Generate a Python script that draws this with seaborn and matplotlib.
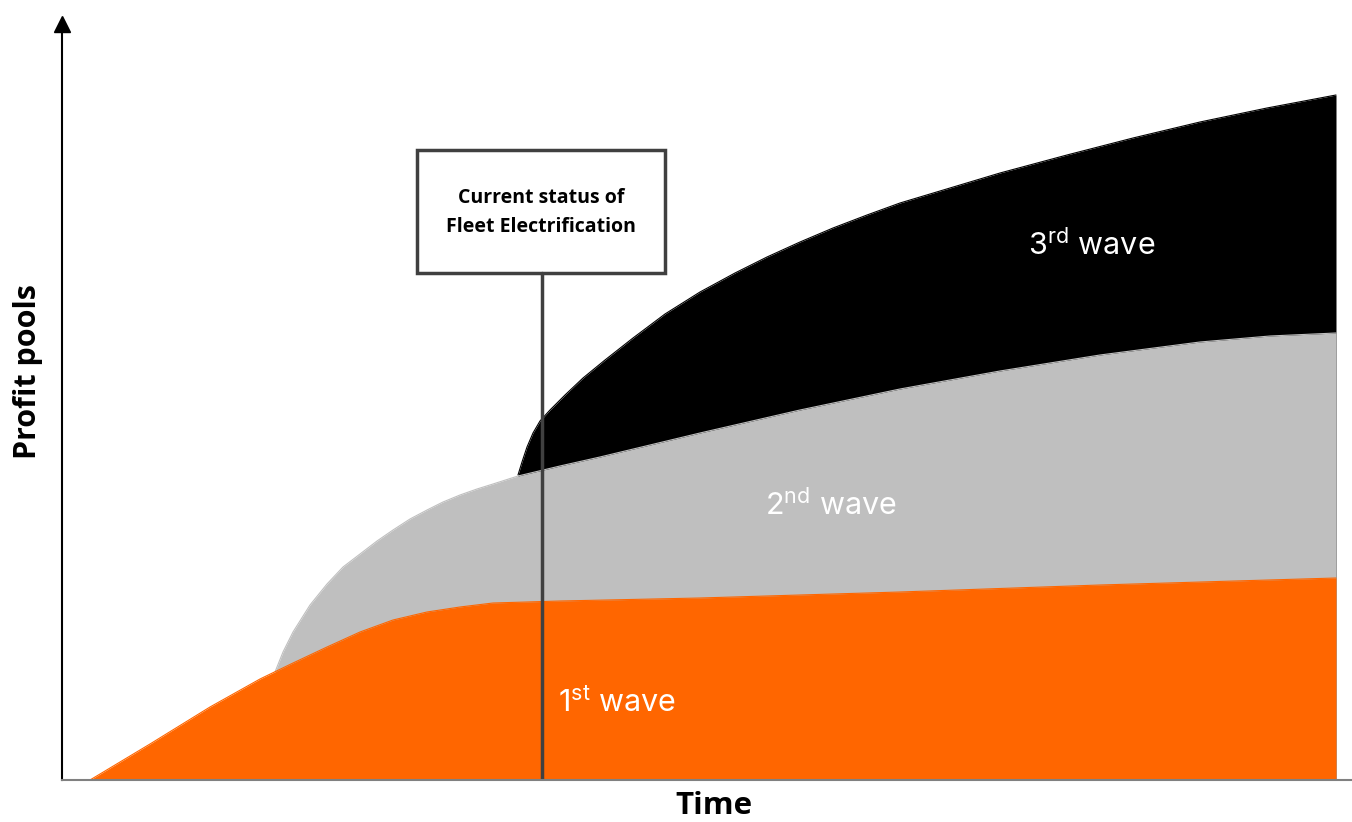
import seaborn as sns
import matplotlib.pyplot as plt
from matplotlib.patches import Rectangle

# data (time units left->right, profit units bottom->top)
wave1_x = [28, 88, 148, 198, 231, 265, 298, 331, 365, 398, 431, 465, 498, 638, 838, 1038, 1274]
wave1_y = [0, 36, 73, 101, 117, 133, 148, 160, 168, 173, 177, 178, 179, 182, 188, 195, 202]

wave2_x = [213, 221, 231, 248, 265, 281, 298, 315, 331, 348, 365, 381, 398, 415, 431, 456,
           498, 538, 638, 738, 838, 938, 1038, 1138, 1208, 1274]
wave2_y = [108, 128, 148, 175, 196, 213, 226, 239, 250, 261, 270, 278, 285, 291, 296, 304,
           314, 323, 347, 370, 391, 409, 425, 438, 444, 447]

wave3_x = [456, 460, 465, 471, 478, 488, 503, 521, 543, 571, 603, 638, 673, 705, 738, 771,
           805, 838, 888, 938, 1005, 1071, 1138, 1205, 1274]
wave3_y = [305, 318, 333, 347, 359, 370, 385, 402, 420, 442, 466, 488, 507, 523, 538, 552,
           565, 577, 592, 607, 625, 642, 658, 672, 685]

status_x = 480
labels = ["1$^{\\rm st}$ wave", "2$^{\\rm nd}$ wave", "3$^{\\rm rd}$ wave"]
colors = ["#FF6600", "#BFBFBF", "#000000"]

sns.set_style("white")
plt.rcParams['font.family'] = ['Open Sans', 'DejaVu Sans']
plt.rcParams['text.color'] = 'black'
plt.rcParams['mathtext.fontset'] = 'custom'
plt.rcParams['mathtext.rm'] = 'Inter'

fig = plt.figure(figsize=(13.52, 8.22), dpi=100)
ax = fig.add_axes([62 / 1352, 42 / 822, 1290 / 1352, 756 / 822])
ax.set_xlim(0, 1290)
ax.set_ylim(0, 756)

# layered areas, back to front
for xs, ys, c in [(wave3_x, wave3_y, colors[2]), (wave2_x, wave2_y, colors[1]), (wave1_x, wave1_y, colors[0])]:
    ax.fill_between(xs, 0, ys, color=c, linewidth=0)
    sns.lineplot(x=xs, y=ys, color=c, linewidth=0.8, ax=ax, sort=False)

# current status marker
ax.plot([status_x, status_x], [0, 507], color="#404040", lw=2.5)
ax.add_patch(Rectangle((355, 507), 248, 123, facecolor="white", edgecolor="#404040", lw=2.5))
ax.text(479, 568, "Current status of\nFleet Electrification", ha="center", va="center",
        fontsize=14, fontweight="bold", linespacing=1.6, color="black")

font_w = dict(color="white", fontsize=22, family=["Inter", "DejaVu Sans"], ha="center", va="center")
ax.text(555, 77, labels[0], **font_w)
ax.text(769, 275, labels[1], **font_w)
ax.text(1030, 535, labels[2], **font_w)

# axes styling
sns.despine(ax=ax, top=True, right=True)
ax.spines["left"].set_color("black")
ax.spines["left"].set_linewidth(1.5)
ax.spines["bottom"].set_color("#808080")
ax.spines["bottom"].set_linewidth(1.5)
ax.set_xticks([])
ax.set_yticks([])
ax.plot(0, 1, marker="^", color="black", markersize=11, transform=ax.transAxes, clip_on=False)

fig.text(28 / 1352, 1 - 372 / 822, "Profit pools", rotation=90, ha="center", va="center",
         fontsize=22, fontweight="bold", color="black")
fig.text(714 / 1352, 1 - 806 / 822, "Time", ha="center", va="center", fontsize=22.5,
         fontweight="bold", color="black")

fig.savefig("out.png", dpi=100)
